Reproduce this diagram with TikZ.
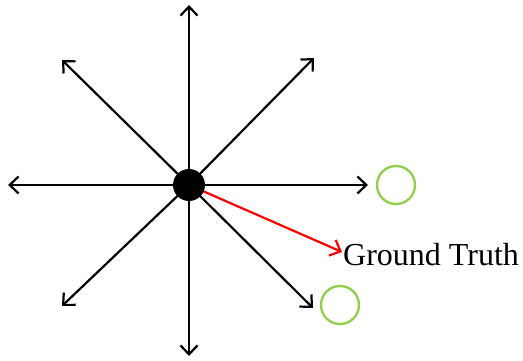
\documentclass[tikz,border=0pt]{standalone}
\usepackage{fontspec}
\setmainfont{Liberation Serif}
\usetikzlibrary{arrows.meta}
\begin{document}
\begin{tikzpicture}[x=1pt,y=-1pt,
  ray/.style={line width=2.2pt,-{Straight Barb[length=9pt,width=17pt,line width=2.2pt]}},
  gt/.style={ray,red},
  target/.style={circle,draw={rgb,255:red,146;green,208;blue,80},line width=2.4pt,minimum size=38pt,inner sep=0pt}]
\useasboundingbox (0,0) rectangle (523,361);
\coordinate (c) at (189,185);
\coordinate (n) at (189,5);
\coordinate (s) at (189,356);
\coordinate (w) at (8,185);
\coordinate (e) at (368,185);
\coordinate (nw) at (62,60);
\coordinate (ne) at (314,58);
\coordinate (sw) at (62,306);
\coordinate (se) at (313,308);
\foreach \t in {n,s,w,e,nw,ne,sw,se} \draw[ray] (c) -- (\t);
\node[anchor=base west,font=\fontsize{32}{36}\selectfont,inner sep=0pt] (lbl) at (343,265) {Ground Truth};
\coordinate (gtend) at (342,252);
\draw[gt] (c) -- (gtend);
\node[circle,fill=black,minimum size=32pt,inner sep=0pt] (hub) at (c) {};
\node[target] (t1) at (396,185) {};
\node[target] (t2) at (340,305) {};
\end{tikzpicture}
\end{document}
